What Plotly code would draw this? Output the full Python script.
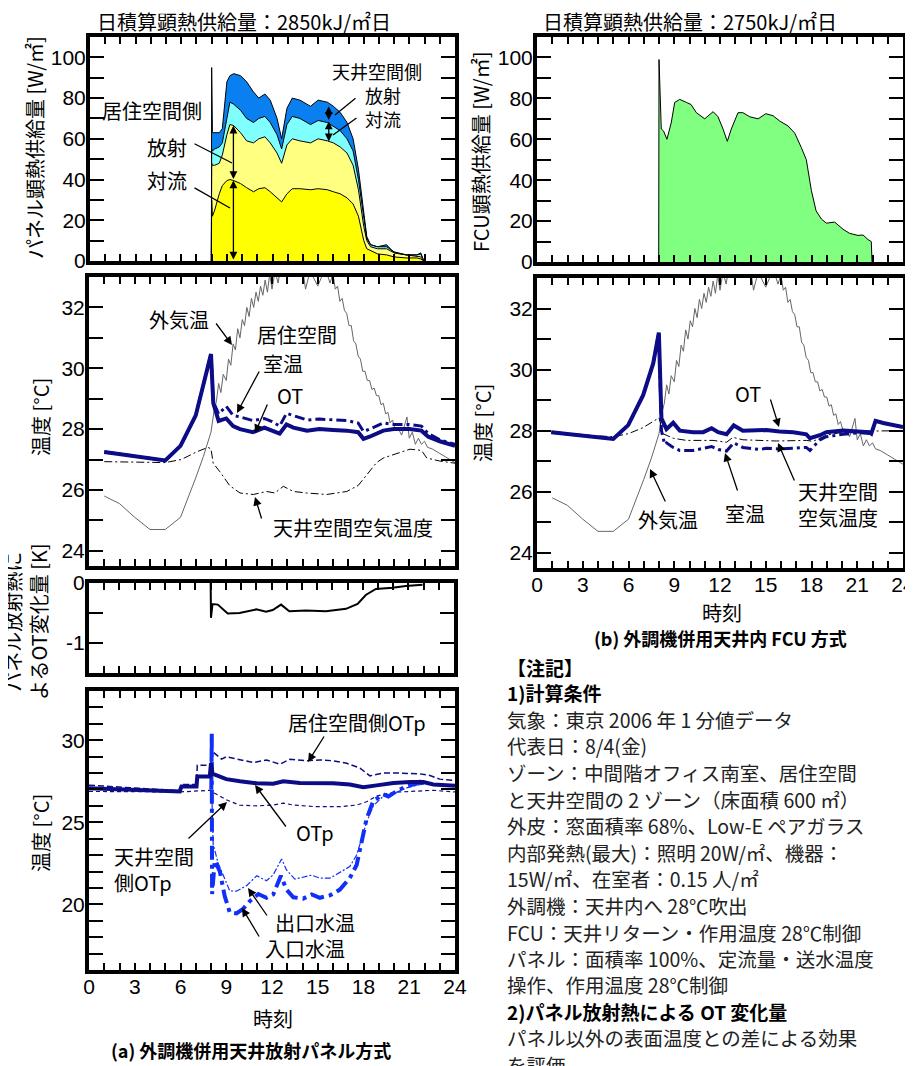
import plotly.graph_objects as go

OFF = 8                      # page body margin in the browser
W, H = 913 - OFF, 1066 - OFF  # figure size so that nothing overflows the window
JP = "Noto Sans CJK JP"
LAT = "Liberation Sans, Arial"
NAVY = "#0C0C86"
BLUE = "#1030F5"

# ---------------- data ----------------
# (a) panel heat supply, cumulative boundaries [W/m2]
h_panel = [7.98, 8.0, 8.05, 8.2, 8.5, 8.7, 9.0, 9.2, 9.45, 9.9,
           10.3, 10.75, 11.1, 11.5, 11.85, 12.3, 12.6, 12.95, 13.3, 13.8,
           14.5, 15.0, 15.6, 16.0, 16.45, 16.9, 17.3, 17.65, 18.0, 18.2,
           18.45, 18.9, 19.5, 20.0, 20.8, 21.5, 21.75, 21.95]
live_conv = [0, 30, 22, 25, 33, 37, 39.5, 40, 39.5, 38,
             36, 34, 35.5, 36, 34, 31, 29, 33, 35.5, 35.5,
             35, 35.5, 35, 34, 33, 31, 28, 22, 10, 6,
             5, 3.5, 3, 2, 1.5, 1.5, 1, 0]
live_total = [0, 48, 47, 47, 48, 52, 62, 67, 66.5, 63,
              59, 58, 60, 61, 58, 53, 48, 57, 60, 59,
              58, 60, 59, 58, 56, 53, 47, 35, 17, 10,
              7, 6, 6, 4, 3, 2.5, 2, 0]
ceil_conv_cum = [0, 55, 54, 55, 56, 58, 70, 78, 77, 74,
                 70, 68, 70, 71, 68, 62, 55, 67, 71, 70,
                 67, 69, 68, 66, 64, 60, 54, 40, 20, 11,
                 8, 7, 7, 4.5, 3, 3, 3.5, 0]
panel_total = [0, 95, 63, 63, 63, 65, 88, 91, 92, 91,
               88, 83, 80, 82, 79, 70, 60, 75, 80, 79,
               76, 79, 78, 76, 73, 68, 60, 45, 25, 12,
               8, 7, 8, 4, 3, 3, 4, 0]

# (b) FCU heat supply [W/m2]
h_fcu = [7.98, 8.0, 8.15, 8.3, 8.52, 8.8, 9.03, 9.36, 9.8, 10.1,
         10.45, 11.0, 11.55, 11.87, 12.2, 12.48, 12.74, 13.18, 13.5, 13.95,
         14.5, 15.0, 15.48, 15.9, 16.46, 16.9, 17.33, 17.66, 17.99, 18.3,
         18.65, 18.97, 19.52, 20.07, 20.5, 21.05, 21.38, 21.7, 21.92, 21.97]
fcu_heat = [0, 99, 65, 64, 60, 68, 78, 79.5, 78, 77,
            73, 70, 73.5, 71, 65, 59, 65, 73, 73, 71,
            70, 72.5, 71.5, 69, 66.5, 63, 56, 50, 35, 25,
            21, 19, 19.5, 16, 14, 13, 13.2, 11, 10, 0]

# outside air temperature [C]
h_out = [1, 2, 3, 4, 5, 6, 7, 7.5, 8, 8.2,
         8.35, 8.5, 8.65, 8.8, 9.0, 9.15, 9.3, 9.45, 9.6, 9.75,
         9.9, 10.05, 10.2, 10.35, 10.5, 10.65, 10.8, 10.95, 11.1, 11.25,
         11.4, 11.55, 11.7, 11.85, 12.0, 12.2, 12.4, 12.6, 12.8, 13.0,
         13.5, 14.0, 14.2, 14.5, 15.0, 15.5, 15.8, 16.0, 16.15, 16.3,
         16.45, 16.6, 16.75, 16.9, 17.05, 17.2, 17.35, 17.5, 17.65, 17.8,
         17.95, 18.1, 18.25, 18.4, 18.55, 18.7, 18.85, 19.0, 19.15, 19.3,
         19.45, 19.6, 19.75, 19.9, 20.1, 20.3, 20.5, 20.7, 20.85, 21.0,
         21.2, 21.4, 21.6, 21.8, 22.0, 22.2, 22.5, 23.0, 23.5, 24.0]
t_out = [25.8, 25.55, 25.1, 24.7, 24.7, 25.1, 26.4, 27.1, 27.9, 28.6,
         28.9, 29.5, 29.2, 29.8, 29.6, 30.3, 30.1, 30.8, 30.6, 31.3,
         31.0, 31.6, 31.4, 32.0, 31.7, 32.3, 32.0, 32.5, 32.2, 32.7,
         32.4, 32.9, 32.5, 33.1, 32.6, 33.2, 32.8, 33.4, 33.0, 33.5,
         33.6, 33.3, 32.6, 33.2, 32.7, 33.3, 32.8, 33.1, 32.6, 32.7,
         32.2, 32.3, 31.9, 31.8, 31.4, 31.4, 30.9, 30.8, 30.4, 30.3,
         29.9, 29.9, 29.6, 29.6, 29.3, 29.35, 29.1, 29.1, 28.8, 28.85,
         28.5, 28.55, 28.2, 28.3, 27.95, 28.0, 27.8, 28.2, 28.4, 27.7,
         27.9, 27.5, 27.7, 27.5, 27.6, 27.4, 27.35, 27.2, 27.05, 26.9]

# (a) room temperatures
h_a = [1.0, 5.0, 6.0, 7.0, 8.0, 8.15, 8.5, 9.0, 9.45, 9.9,
       10.75, 11.5, 12.0, 12.5, 12.95, 13.4, 14.3, 15.1, 16.0, 16.9,
       17.65, 18.0, 18.4, 19.3, 20.0, 21.0, 21.8, 22.25, 23.0, 24.0]
ot_a = [27.25, 26.97, 27.45, 28.45, 30.47, 28.85, 28.27, 28.35, 28.1, 28.0,
        27.9, 28.05, 27.95, 27.85, 28.15, 28.05, 27.95, 28.0, 27.97, 27.95,
        27.9, 27.68, 27.75, 27.95, 28.0, 28.0, 27.95, 27.75, 27.6, 27.45]
room_a = [27.25, 26.97, 27.45, 28.45, 30.47, 28.9, 28.5, 28.75, 28.45, 28.4,
          28.28, 28.35, 28.25, 28.1, 28.52, 28.45, 28.3, 28.33, 28.3, 28.28,
          28.2, 27.92, 28.0, 28.2, 28.15, 28.15, 28.1, 27.85, 27.65, 27.5]
h_ceil_a = [1.0, 5.0, 6.05, 7.05, 7.8, 8.0, 8.14, 8.58, 9.23, 9.9,
            10.77, 11.64, 12.19, 12.74, 13.4, 14.27, 15.58, 16.9, 17.66, 18.2,
            18.86, 19.3, 19.96, 21.05, 21.8, 22.15, 23.0, 24.0]
ceil_a = [26.93, 26.9, 27.0, 27.25, 27.4, 27.35, 26.88, 26.6, 26.14, 25.9,
          25.85, 25.95, 25.9, 26.12, 25.95, 25.9, 25.85, 25.95, 26.15, 26.5,
          26.9, 27.05, 27.15, 27.34, 27.3, 27.05, 26.95, 26.88]

# (b) room temperatures
h_b = [0.94, 5.0, 5.98, 6.96, 7.62, 7.99, 8.16, 8.37, 8.49, 8.93,
       9.36, 10.24, 10.9, 11.45, 11.88, 12.43, 12.9, 13.5, 14.6, 15.04,
       15.9, 16.8, 17.66, 17.9, 18.55, 18.97, 20.07, 21.16, 21.77, 21.92,
       22.2, 22.7, 23.35, 24.0]
ot_b = [27.95, 27.73, 28.18, 29.16, 30.2, 31.21, 28.4, 28.15, 28.05, 28.26,
        28.0, 27.95, 27.95, 28.08, 27.95, 27.88, 28.17, 28.0, 28.0, 28.02,
        27.97, 27.95, 27.88, 27.75, 27.85, 27.95, 28.0, 27.98, 27.95, 27.9,
        28.32, 28.25, 28.18, 28.12]
room_b = [27.95, 27.73, 28.18, 29.16, 30.2, 31.21, 28.0, 27.55, 27.6, 27.45,
          27.35, 27.35, 27.42, 27.48, 27.38, 27.33, 27.6, 27.45, 27.38, 27.42,
          27.4, 27.42, 27.45, 27.35, 27.7, 27.8, 27.88, 27.93, 27.9, 27.9,
          28.32, 28.25, 28.18, 28.12]
h_ceil_b = [0.94, 5.0, 6.0, 6.96, 8.0, 8.26, 8.93, 9.8, 11.54, 12.43,
            12.85, 13.5, 15.7, 17.66, 18.1, 18.97, 20.07, 21.16, 24.0]
ceil_b = [27.92, 27.8, 27.9, 28.1, 28.42, 27.9, 27.75, 27.68, 27.68, 27.62,
          27.78, 27.7, 27.66, 27.68, 27.65, 27.85, 27.95, 27.98, 28.0]

# (a) OT change by panel radiation [K]
h_dot = [8.0, 8.02, 8.12, 8.47, 9.12, 9.9, 11.0, 11.64, 12.08, 12.63,
         13.17, 14.27, 15.58, 16.9, 17.66, 18.2, 18.86, 19.96, 20.83, 21.93]
d_ot = [0, -0.58, -0.35, -0.36, -0.51, -0.5, -0.44, -0.48, -0.45, -0.36,
        -0.47, -0.46, -0.47, -0.43, -0.35, -0.2, -0.1, -0.08, -0.05, -0.03]

# (a) OTp and water temperatures
h_otp = [0, 5.95, 6.06, 7.05, 7.1, 7.92, 8.0, 8.1, 8.25, 9.0,
         9.9, 11.0, 12.08, 12.74, 13.83, 14.92, 16.0, 17.1, 17.99, 18.86,
         19.96, 21.05, 21.93, 22.58, 24.0]
otp = [27.08, 26.88, 27.18, 27.18, 27.79, 27.79, 28.6, 27.95, 27.9, 27.63,
       27.5, 27.38, 27.35, 27.5, 27.4, 27.4, 27.38, 27.3, 27.14, 27.25,
       27.4, 27.45, 27.45, 27.3, 27.22]
h_otp_live = [0, 5.95, 6.06, 7.05, 7.1, 7.97, 8.05, 8.35, 8.69, 9.0,
              9.9, 10.77, 11.64, 12.52, 13.17, 14.27, 15.14, 16.0, 16.9, 17.77,
              18.42, 19.3, 20.4, 21.7, 22.36, 23.0, 24.0]
otp_live = [27.26, 26.92, 27.3, 27.3, 28.48, 28.48, 29.35, 29.09, 28.85, 28.99,
            28.8, 28.64, 28.8, 28.54, 28.84, 28.75, 28.8, 28.75, 28.6, 28.3,
            27.83, 28.0, 28.0, 27.95, 27.85, 27.63, 27.55]
h_otp_ceil = [0, 5.95, 7.97, 8.14, 8.58, 9.0, 9.9, 11.0, 12.08, 12.74,
              13.4, 14.7, 16.45, 17.55, 18.2, 18.86, 19.52, 20.4, 21.49, 22.58, 24.0]
otp_ceil = [26.88, 26.85, 26.95, 26.82, 26.6, 26.37, 26.04, 26.0, 26.05, 26.17,
            26.05, 25.96, 25.95, 26.05, 26.25, 26.6, 26.75, 26.85, 26.9, 26.95, 26.85]
h_wout = [8.05, 8.14, 8.47, 8.8, 9.23, 9.67, 10.33, 11.0, 11.64, 12.08,
          12.63, 12.95, 13.5, 14.6, 15.14, 15.8, 16.67, 17.1, 17.55, 17.88,
          18.2, 18.64, 19.3, 19.96, 20.83, 21.7, 22.15]
w_out = [26.9, 23.67, 22.5, 21.8, 20.83, 20.8, 21.14, 21.74, 21.44, 21.8,
         22.76, 22.1, 21.54, 21.78, 21.6, 21.6, 22.05, 22.3, 23.0, 24.0,
         25.0, 26.0, 26.6, 26.75, 27.1, 27.3, 27.35]
h_win = [8.02, 8.05, 8.07, 8.25, 8.58, 8.9, 9.23, 9.67, 10.1, 10.55,
         11.1, 11.64, 12.08, 12.58, 12.95, 13.4, 14.05, 14.6, 15.14, 15.8,
         16.45, 17.1, 17.55, 17.88, 18.2, 18.64, 19.3, 19.63, 20.18, 20.83,
         21.49, 21.93]
w_in = [27.0, 30.4, 20.63, 22.66, 22.0, 20.5, 19.51, 19.45, 19.72, 20.2,
        20.63, 20.4, 20.6, 21.74, 20.9, 20.43, 20.35, 20.6, 20.4, 20.55,
        20.9, 21.6, 22.4, 23.8, 25.2, 26.3, 26.7, 26.57, 26.9, 27.2,
        27.35, 27.6]

x_ticks = [0, 3, 6, 9, 12, 15, 18, 21, 24]


def px_x(px):
    return (px - OFF) / W


def px_y(py):
    return 1 - (py - OFF) / H


# ---------------- figure ----------------
fig = go.Figure()


def line(ax, x, y, color, width, dash="solid", fill=None, fillcolor=None):
    fig.add_trace(go.Scatter(x=x, y=y, mode="lines", xaxis="x" + ax, yaxis="y" + ax,
                             line=dict(color=color, width=width, dash=dash),
                             fill=fill, fillcolor=fillcolor, showlegend=False,
                             hoverinfo="skip"))


# panel 1 stacked areas
line("", h_panel, live_conv, "black", 1, fill="tozeroy", fillcolor="#FFFF00")
line("", h_panel, live_total, "black", 1, fill="tonexty", fillcolor="#FFFF80")
line("", h_panel, ceil_conv_cum, "black", 1, fill="tonexty", fillcolor="#80FFFF")
line("", h_panel, panel_total, "black", 1, fill="tonexty", fillcolor="#0A80F0")
# panel 2
line("2", h_fcu, fcu_heat, "black", 1, fill="tozeroy", fillcolor="#80FF80")
# panel 3
line("3", h_out, t_out, "#666666", 1)
line("3", h_ceil_a, ceil_a, "black", 1, dash="8px,3px,2px,3px")
line("3", h_a, room_a, NAVY, 3, dash="10px,4px,3px,4px")
line("3", h_a, ot_a, NAVY, 4)
# panel 4
line("4", h_out, t_out, "#666666", 1)
line("4", h_ceil_b, ceil_b, "black", 1, dash="8px,3px,2px,3px")
line("4", h_b, room_b, NAVY, 3, dash="10px,4px,3px,4px")
line("4", h_b, ot_b, NAVY, 4)
# panel 5
line("5", h_dot, d_ot, "black", 2)
# panel 6
line("6", h_otp_live, otp_live, NAVY, 1.5, dash="6px,3px")
line("6", h_otp_ceil, otp_ceil, NAVY, 1.2, dash="4px,3px")
line("6", h_wout, w_out, BLUE, 1.2, dash="6px,2px,2px,2px")
line("6", h_win, w_in, BLUE, 4, dash="14px,5px,4px,5px")
line("6", h_otp, otp, NAVY, 4)

panels = {
    "":  dict(x=(90, 455), y=(37, 261), yr=[0, 110], t0=0, dt=20, mdt=10, lab=False),
    "2": dict(x=(537, 903), y=(37, 262), yr=[0, 110], t0=0, dt=20, mdt=10, lab=False),
    "3": dict(x=(89, 455), y=(277, 566), yr=[23.5, 33], t0=24, dt=2, mdt=1, lab=False),
    "4": dict(x=(537, 903), y=(278, 568), yr=[23.5, 33], t0=24, dt=2, mdt=1, lab=True),
    "5": dict(x=(89, 454), y=(583, 673), yr=[-1.5, 0], t0=0, dt=1, mdt=0.5, lab=False),
    "6": dict(x=(89, 455), y=(691, 970), yr=[16, 33], t0=0, dt=5, mdt=1, lab=True),
}
lay = {}
for k, p in panels.items():
    xa = dict(domain=[px_x(p["x"][0]), px_x(p["x"][1])], range=[0, 24], anchor="y" + k,
              tickmode="array", tickvals=x_ticks, ticks="inside", ticklen=7, tickwidth=1.5,
              tickcolor="black", mirror="ticks", showline=True, linewidth=4, linecolor="black",
              showgrid=False, zeroline=False, showticklabels=p["lab"], automargin=False,
              ticklabeloverflow="allow", ticklabelstandoff=-5,
              tickfont=dict(family=LAT, size=21, color="black"),
              minor=dict(dtick=1, tick0=0, ticks="inside", ticklen=7, tickwidth=1.5,
                         tickcolor="black", showgrid=False))
    ya = dict(domain=[px_y(p["y"][1]), px_y(p["y"][0])], range=p["yr"], anchor="x" + k,
              tick0=p["t0"], dtick=p["dt"], ticks="inside", ticklen=14, tickwidth=1.5,
              tickcolor="black", mirror="ticks", showline=True, linewidth=4, linecolor="black",
              showgrid=False, zeroline=False, automargin=False,
              ticklabeloverflow="allow", ticklabelstandoff=-4,
              tickfont=dict(family=LAT, size=21, color="black"),
              minor=dict(dtick=p["mdt"], tick0=0, ticks="inside", ticklen=14, tickwidth=1.5,
                         tickcolor="black", showgrid=False))
    if k == "5":
        ya.update(tickmode="array", tickvals=[-1, 0], ticktext=["-1", "0"])
    lay["xaxis" + k] = xa
    lay["yaxis" + k] = ya

anns = []


def text(px, py, s, size=20, angle=0, xanchor="center", bold=False, family=JP,
         color="black", align="center"):
    if bold:
        s = "<b>" + s + "</b>"
    anns.append(dict(x=px_x(px), y=px_y(py), xref="paper", yref="paper", text=s,
                     showarrow=False, font=dict(family=family, size=size, color=color),
                     textangle=angle, xanchor=xanchor, yanchor="middle", align=align))


def arrow(tail, tip, head=2):
    anns.append(dict(x=px_x(tip[0]), y=px_y(tip[1]), xref="paper", yref="paper", text="",
                     showarrow=True, ax=tail[0] - tip[0], ay=tail[1] - tip[1],
                     arrowhead=head, arrowsize=1.3, arrowwidth=1.3, arrowcolor="black"))


def darrow(ax, x, y0, y1):
    anns.append(dict(x=x, y=y1, xref="x" + ax, yref="y" + ax, axref="x" + ax, ayref="y" + ax,
                     ax=x, ay=y0, text="", showarrow=True, arrowhead=2, startarrowhead=2,
                     arrowside="end+start", arrowsize=1.2, startarrowsize=1.2,
                     arrowwidth=1.3, arrowcolor="black"))


# titles
text(244, 21, "日積算顕熱供給量：2850kJ/㎡日", size=20)
text(690, 21, "日積算顕熱供給量：2750kJ/㎡日", size=20)
# y axis titles
text(35, 148, "パネル顕熱供給量 [W/㎡]", size=20, angle=-90)
text(481, 152, "FCU顕熱供給量 [W/㎡]", size=20, angle=-90)
text(40, 417, "温度 [°C]", size=20, angle=-90)
text(482, 423, "温度 [°C]", size=20, angle=-90)
text(25, 622, "パネル放射熱に<br>よるOT変化量 [K]", size=20, angle=-90)
text(40, 833, "温度 [°C]", size=20, angle=-90)
# x titles / captions
text(722, 612, "時刻", size=20)
text(273, 1018, "時刻", size=20)
text(720, 638, "(b) 外調機併用天井内 FCU 方式", size=18, bold=True)
text(251, 1050, "(a) 外調機併用天井放射パネル方式", size=18, bold=True)

# panel 1 labels
text(152, 110, "居住空間側")
text(167, 147, "放射")
text(167, 180, "対流")
text(377, 71, "天井空間側", size=18)
text(383, 95, "放射", size=18)
text(383, 119, "対流", size=18)
arrow((193, 143), (232, 163), head=0)
arrow((193, 187), (230, 208), head=0)
arrow((357, 97), (335, 115), head=0)
arrow((358, 117), (333, 135), head=0)
darrow("", 9.43, 0, 39.5)
darrow("", 9.43, 39.5, 66.5)
darrow("", 15.7, 68.5, 76)
darrow("", 15.7, 58, 68.5)

# panel 3 labels
text(179, 320, "外気温")
text(297, 335, "居住空間")
text(283, 363, "室温")
text(290, 396, "OT")
text(353, 527, "天井空間空気温度")
arrow((215, 322), (232, 345))
arrow((260, 370), (237, 413))
arrow((268, 403), (255, 433))
arrow((262, 520), (255, 497))

# panel 4 labels
text(748, 393, "OT")
text(668, 520, "外気温")
text(745, 513, "室温")
text(838, 505, "天井空間<br>空気温度")
arrow((770, 398), (779, 427))
arrow((666, 503), (650, 469))
arrow((738, 492), (725, 453))
arrow((795, 482), (778, 443))

# panel 6 labels
text(357, 722, "居住空間側OTp")
text(315, 832, "OTp")
text(112, 869, "天井空間<br>側OTp", xanchor="left", align="left")
text(315, 922, "出口水温")
text(305, 948, "入口水温")
arrow((325, 735), (308, 762))
arrow((287, 828), (255, 785))
arrow((187, 840), (227, 802))
arrow((268, 917), (248, 888))
arrow((260, 938), (242, 908))

# notes
notes = [
    ("【注記】", 667, True),
    ("1)計算条件", 692, True),
    ("気象：東京 2006 年 1 分値データ", 719, False),
    ("代表日：8/4(金)", 745, False),
    ("ゾーン：中間階オフィス南室、居住空間", 772, False),
    ("と天井空間の 2 ゾーン（床面積 600 ㎡）", 799, False),
    ("外皮：窓面積率 68%、Low-E ペアガラス", 825, False),
    ("内部発熱(最大)：照明 20W/㎡、機器：", 852, False),
    ("15W/㎡、在室者：0.15 人/㎡", 878, False),
    ("外調機：天井内へ 28℃吹出", 905, False),
    ("FCU：天井リターン・作用温度 28℃制御", 932, False),
    ("パネル：面積率 100%、定流量・送水温度", 958, False),
    ("操作、作用温度 28℃制御", 984, False),
    ("2)パネル放射熱による OT 変化量", 1011, True),
    ("パネル以外の表面温度との差による効果", 1037, False),
    ("を評価", 1064, False),
]
for s, py, b in notes:
    text(505, py, s, size=19 if b else 19.5, xanchor="left", bold=b,
         color="black" if b else "#222222")

fig.update_layout(template="none", width=W, height=H, autosize=False,
                  margin=dict(l=0, r=0, t=0, b=0, pad=0),
                  paper_bgcolor="white", plot_bgcolor="white", showlegend=False,
                  annotations=anns, **lay)
fig.write_html("out.html")
